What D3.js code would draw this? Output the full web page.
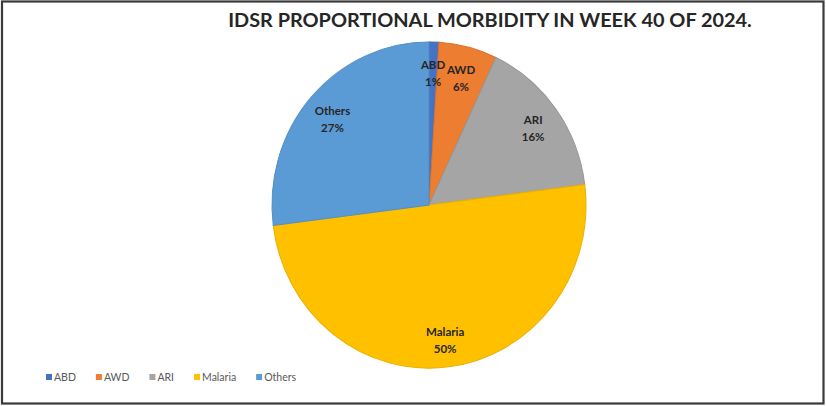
<!DOCTYPE html>
<html>
<head>
<meta charset="utf-8">
<script src="https://cdn.jsdelivr.net/npm/d3@7"></script>
<style>
  html, body { margin: 0; padding: 0; background: #fff; }
  svg { display: block; }
  text { font-family: Lato, "Open Sans", "Liberation Sans", sans-serif; }
</style>
</head>
<body>
<svg id="chart" width="826" height="406"></svg>
<script>
// Weekly IDSR proportional morbidity, week 40 of 2024 (percent of cases)
const categories = ["ABD", "AWD", "ARI", "Malaria", "Others"];
const shares = [1, 6, 16, 50, 27];
const colors = ["#4472C4", "#ED7D31", "#A5A5A5", "#FFC000", "#5B9BD5"];
const titleText = "IDSR PROPORTIONAL MORBIDITY IN WEEK 40 OF 2024.";

const W = 826, H = 406;
const svg = d3.select("#chart");

// frame
svg.append("rect")
  .attr("x", 2).attr("y", 1.5)
  .attr("width", W - 4.5).attr("height", H - 4)
  .attr("fill", "#fff")
  .attr("stroke", "#3a3a3a")
  .attr("stroke-width", 2.2);

// title, fitted to its width
const title = svg.append("text")
  .attr("x", 490).attr("y", 27)
  .attr("text-anchor", "middle")
  .attr("font-weight", 700)
  .attr("font-size", 19)
  .attr("fill", "#262626")
  .text(titleText);
const tw = title.node().getComputedTextLength();
title.attr("font-size", 19 * 524 / tw);

// pie (slightly taller than wide)
const cx = 429, cy = 205, rx = 157, ry = 163;
const pie = d3.pie().sort(null).value(d => d.v);
const data = pie(categories.map((c, i) => ({ c, v: shares[i], col: colors[i] })));
const arc = d3.arc().innerRadius(0).outerRadius(rx);

const g = svg.append("g")
  .attr("transform", `translate(${cx},${cy}) scale(1,${ry / rx})`);
g.selectAll("path")
  .data(data)
  .join("path")
  .attr("d", arc)
  .attr("fill", d => d.data.col)
  .attr("stroke", d => d3.color(d.data.col).darker(0.25))
  .attr("stroke-width", 1);

// data labels
const lr = 0.82;
const labels = svg.append("g");
data.forEach(d => {
  const a = (d.startAngle + d.endAngle) / 2;
  const x = cx + Math.sin(a) * rx * lr;
  const y = cy - Math.cos(a) * ry * lr;
  const t = labels.append("text")
    .attr("text-anchor", "middle")
    .attr("font-weight", 700)
    .attr("font-size", 11.5)
    .attr("fill", "#262626");
  t.append("tspan").attr("x", x).attr("y", y - 2).text(d.data.c);
  t.append("tspan").attr("x", x).attr("y", y + 15).text(d3.format(".0%")(d.data.v / 100));
});

// legend
const legend = svg.append("g").attr("transform", "translate(46,377)");
let lx = 0;
categories.forEach((c, i) => {
  const item = legend.append("g").attr("transform", `translate(${lx},0)`);
  item.append("rect").attr("x", 0).attr("y", -3).attr("width", 6).attr("height", 6).attr("fill", colors[i]);
  const t = item.append("text").attr("x", 8).attr("y", 4)
    .attr("font-size", 10.5).attr("fill", "#595959").text(c);
  lx += 8 + t.node().getComputedTextLength() + 20;
});
</script>
</body>
</html>
